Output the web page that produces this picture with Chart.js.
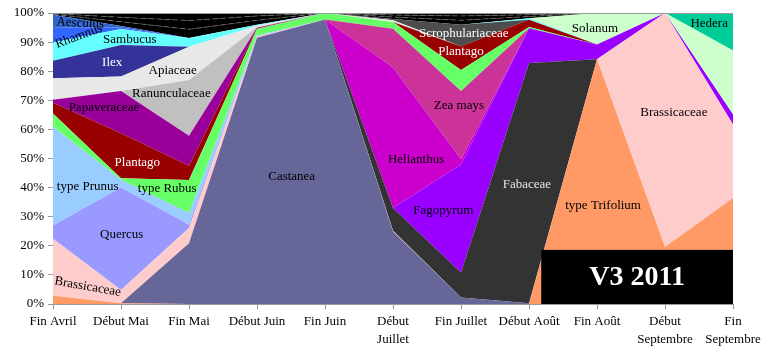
<!DOCTYPE html>
<html>
<head>
<meta charset="utf-8">
<script src="https://cdn.jsdelivr.net/npm/chart.js@4.4.0/dist/chart.umd.min.js"></script>
<style>
  body { margin: 0; background: #fff; }
</style>
</head>
<body>
<canvas id="pollenChart" width="765" height="349"></canvas>
<script>
// Périodes de récolte
const periods = [
    "Fin Avril", "Début Mai", "Fin Mai", ["Début Juin"], "Fin Juin",
    ["Début", "Juillet"], "Fin Juillet", "Début Août", "Fin Août",
    ["Début", "Septembre"], ["Fin", "Septembre"]
];

// Pourcentages par taxon (empilés, du bas vers le haut)
const trifolium     = [2.8, 0.3, 0, 0, 0, 0, 0, 0, 84.1, 19.6, 36.4];
const castanea      = [0, 0, 20.9, 91.5, 97.8, 24.9, 2.2, 0.3, 0, 0, 0];
const brassicaceae  = [19.6, 4.5, 5.2, 0.3, 0, 0.3, 0, 0, 0, 80.4, 25.3];
const fabaceae      = [0, 0, 0, 0, 0, 7.8, 8.6, 82.5, 0, 0, 0];
const quercus       = [4.6, 35.2, 1.1, 0.2, 0, 0, 0, 0, 0, 0, 0];
const prunus        = [34, 2.7, 4.1, 0.3, 0, 0, 0, 0, 0, 0, 0];
const fagopyrum     = [0, 0, 0, 0, 0, 0, 37.1, 12, 5.1, 0, 3.4];
const helianthus    = [0, 0, 0, 0, 0, 48.3, 1.8, 0, 0, 0, 0];
const zeaMays       = [0, 0, 0, 0, 0, 13.3, 23.5, 0, 0, 0, 0];
const rubus         = [4.5, 0.5, 11.3, 2.2, 2.2, 2.3, 7.2, 0.4, 0, 0, 0];
const plantago      = [3.7, 15.5, 4.9, 0.2, 0, 0, 8.1, 2.5, 0, 0, 0];
const papaveraceae  = [1, 14.5, 10.3, 0.2, 0, 0, 0, 0, 0, 0, 0];
const ranunculaceae = [0, 0, 19.2, 0.3, 0, 0, 0, 0, 0, 0, 0];
const apiaceae      = [7.4, 5, 11.4, 0.4, 0, 0.6, 0, 0, 0, 0, 0];
const scrophulariaceae = [0, 0, 0, 0, 0, 0.4, 7.5, 0, 0, 0, 0];
const ilex          = [6, 10.8, 0, 0, 0, 0, 0, 0, 0, 0, 0];
const sambucus      = [6.3, 5.5, 3, 0.4, 0, 0, 0, 0.5, 0, 0, 0];
const rhamnus       = [5, 0.5, 0, 0, 0, 0, 0, 0, 0, 0, 0];
const aesculus      = [4.5, 0.5, 0, 0, 0, 0, 0, 0, 0, 0, 0];
const solanum       = [0, 0, 0, 0, 0, 0, 0, 0, 10.8, 0, 22];
const hedera        = [0, 0, 0, 0, 0, 0, 0, 0, 0, 0, 12.6];
const autres1       = [0.2, 1.5, 3, 1.5, 0, 0.7, 1.5, 0.6, 0, 0, 0.1];
const autres2       = [0.2, 1.5, 3, 1.5, 0, 0.7, 1.5, 0.6, 0, 0, 0.1];
const autres3       = [0.2, 1.5, 2.6, 1, 0, 0.7, 1, 0.6, 0, 0, 0.1];

const series = [
    ["type Trifolium", trifolium, "#FF9966"],
    ["Castanea", castanea, "#666699"],
    ["Brassicaceae", brassicaceae, "#FFCCCC"],
    ["Fabaceae", fabaceae, "#333333"],
    ["Quercus", quercus, "#9999FF"],
    ["type Prunus", prunus, "#99CCFF"],
    ["Fagopyrum", fagopyrum, "#9900FF"],
    ["Helianthus", helianthus, "#CC00CC"],
    ["Zea mays", zeaMays, "#CC3399"],
    ["type Rubus", rubus, "#66FF66"],
    ["Plantago", plantago, "#990000"],
    ["Papaveraceae", papaveraceae, "#990099"],
    ["Ranunculaceae", ranunculaceae, "#C0C0C0"],
    ["Apiaceae", apiaceae, "#E8E8E8"],
    ["Scrophulariaceae", scrophulariaceae, "#4D4D4D"],
    ["Ilex", ilex, "#333399"],
    ["Sambucus", sambucus, "#66FFFF"],
    ["Rhamnus", rhamnus, "#3366FF"],
    ["Aesculus", aesculus, "#3366CC"],
    ["Solanum", solanum, "#CCFFCC"],
    ["Hedera", hedera, "#00CC99"],
    ["Autres", autres1, "#000000"],
    ["Autres", autres2, "#000000"],
    ["Autres", autres3, "#000000"]
];

// Etiquettes posées dans les aires (x = indice de période, y = %)
const areaLabels = [
    { text: "Aesculus", x: 0.40, y: 96.5, color: "#000", rot: 3 },
    { text: "Rhamnus", x: 0.38, y: 92, color: "#000", rot: -20 },
    { text: "Sambucus", x: 1.13, y: 91, color: "#000" },
    { text: "Ilex", x: 0.87, y: 82.8, color: "#fff" },
    { text: "Apiaceae", x: 1.76, y: 80.3, color: "#000" },
    { text: "Ranunculaceae", x: 1.74, y: 72.4, color: "#000" },
    { text: "Papaveraceae", x: 0.75, y: 67.6, color: "#000" },
    { text: "Plantago", x: 1.24, y: 48.6, color: "#fff" },
    { text: "type Prunus", x: 0.51, y: 40.3, color: "#000" },
    { text: "type Rubus", x: 1.68, y: 39.7, color: "#000" },
    { text: "Quercus", x: 1.01, y: 23.8, color: "#000" },
    { text: "Brassicaceae", x: 0.51, y: 5.9, color: "#000", rot: 10 },
    { text: "Castanea", x: 3.51, y: 43.8, color: "#000" },
    { text: "Helianthus", x: 5.34, y: 49.7, color: "#000" },
    { text: "Zea mays", x: 5.97, y: 68.3, color: "#000" },
    { text: "Scrophulariaceae", x: 6.04, y: 93.1, color: "#fff" },
    { text: "Plantago", x: 6.0, y: 86.9, color: "#fff" },
    { text: "Fagopyrum", x: 5.74, y: 32.1, color: "#000" },
    { text: "Fabaceae", x: 6.97, y: 41, color: "#e6e6e6" },
    { text: "Solanum", x: 7.97, y: 94.5, color: "#000" },
    { text: "type Trifolium", x: 8.09, y: 33.8, color: "#000" },
    { text: "Brassicaceae", x: 9.13, y: 65.9, color: "#000" },
    { text: "Hedera", x: 9.65, y: 96.2, color: "#000" }
];

const serif = "'Liberation Serif', 'Times New Roman', serif";

const datasets = series.map(function (s, i) {
    const isOther = s[0] === "Autres";
    return {
        label: s[0],
        data: s[1],
        backgroundColor: s[2],
        borderColor: isOther ? "#8a8a8a" : s[2],
        borderWidth: isOther ? 0.6 : 0,
        borderDash: isOther ? [5, 3] : [],
        fill: i === 0 ? "origin" : "-1",
        pointRadius: 0,
        tension: 0
    };
});

const areaLabelPlugin = {
    id: "areaLabels",
    afterDatasetsDraw(chart) {
        const ctx = chart.ctx;
        const xs = chart.scales.x;
        const ys = chart.scales.y;
        const area = chart.chartArea;
        ctx.save();
        ctx.font = "13px " + serif;
        ctx.textAlign = "center";
        ctx.textBaseline = "middle";
        areaLabels.forEach(function (l) {
            const px = xs.getPixelForValue(l.x);
            const py = ys.getPixelForValue(l.y);
            ctx.save();
            ctx.translate(px, py);
            if (l.rot) ctx.rotate(l.rot * Math.PI / 180);
            ctx.fillStyle = l.color;
            ctx.fillText(l.text, 0, 0);
            ctx.restore();
        });

        // cadre gris du haut
        ctx.strokeStyle = "#999";
        ctx.lineWidth = 1;
        ctx.beginPath();
        ctx.moveTo(area.left, area.top + 0.5);
        ctx.lineTo(area.right, area.top + 0.5);
        ctx.stroke();

        // cartouche "V3 2011"
        const boxLeft = xs.getPixelForValue(7.18);
        const boxTop = ys.getPixelForValue(18.6);
        ctx.fillStyle = "#000";
        ctx.fillRect(boxLeft, boxTop, area.right - boxLeft, area.bottom - boxTop);
        ctx.fillStyle = "#fff";
        ctx.font = "bold 28px " + serif;
        ctx.fillText("V3 2011", (boxLeft + area.right) / 2, (boxTop + area.bottom) / 2 + 1);
        ctx.restore();
    }
};

new Chart(document.getElementById("pollenChart").getContext("2d"), {
    type: "line",
    data: { labels: periods, datasets: datasets },
    options: {
        responsive: false,
        animation: false,
        layout: { padding: { top: 13, right: 32, left: 0, bottom: 0 } },
        plugins: {
            legend: { display: false },
            tooltip: { enabled: false }
        },
        scales: {
            x: {
                offset: false,
                grid: { display: true, drawOnChartArea: false, drawTicks: true, tickLength: 5, color: "#999" },
                border: { color: "#999" },
                ticks: {
                    color: "#000",
                    font: { family: serif, size: 13, lineHeight: 1.35 },
                    maxRotation: 0,
                    autoSkip: false,
                    padding: 4
                },
                afterFit(scale) { scale.height = 45; }
            },
            y: {
                stacked: true,
                min: 0,
                max: 100,
                grid: { display: true, drawOnChartArea: false, drawTicks: true, tickLength: 5, color: "#999" },
                border: { color: "#999" },
                ticks: {
                    stepSize: 10,
                    color: "#000",
                    font: { family: serif, size: 13 },
                    padding: 4,
                    callback: function (v) { return v + "%"; }
                },
                afterFit(scale) { scale.width = 53; }
            }
        }
    },
    plugins: [areaLabelPlugin]
});
</script>
</body>
</html>
